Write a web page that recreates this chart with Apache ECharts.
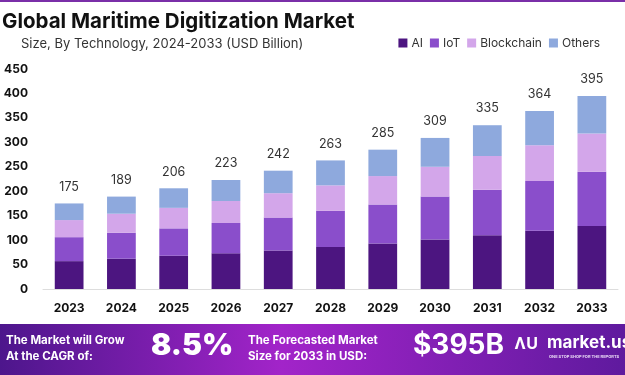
<!DOCTYPE html>
<html>
<head>
<meta charset="utf-8">
<script src="https://cdn.jsdelivr.net/npm/echarts@6/dist/echarts.min.js"></script>
<style>
  html, body { margin: 0; padding: 0; background: #fff; }
  #chart { width: 625px; height: 375px; }
</style>
</head>
<body>
<div id="chart"></div>
<script>
const years = ['2023', '2024', '2025', '2026', '2027', '2028', '2029', '2030', '2031', '2032', '2033']
const ai = [57, 62, 68, 73, 79, 86, 93, 101, 110, 119, 129]
const iot = [49, 53, 56, 62, 67, 74, 80, 88, 93, 102, 111]
const blockchain = [35, 39, 42, 45, 50, 52, 58, 61, 69, 73, 78]
const others = [34, 35, 40, 43, 46, 51, 54, 59, 63, 70, 77]
const totals = [175, 189, 206, 223, 242, 263, 285, 309, 335, 364, 395]

const font = 'Inter, "Open Sans", sans-serif'
const colors = ['#4c1580', '#8a4ecb', '#d3a6ea', '#8ea9dd']

const chart = echarts.init(document.getElementById('chart'))

function seg(name, data, color, withLabel) {
  const s = {
    name: name,
    type: 'bar',
    stack: 'total',
    data: data,
    barWidth: '55%',
    itemStyle: { color: color },
    emphasis: { disabled: true }
  }
  if (withLabel) {
    // total on top of the last segment
    s.label = {
      show: true,
      position: 'top',
      distance: 10,
      color: '#333',
      fontFamily: font,
      fontSize: 12.5,
      formatter: p => totals[p.dataIndex]
    }
  }
  return s
}

const option = {
  animation: false,
  backgroundColor: '#fff',
  title: [
    {
      text: 'Global Maritime Digitization Market',
      left: -3,
      top: 6,
      textStyle: { fontFamily: font, fontSize: 20.5, fontWeight: 'bold', color: '#111' }
    },
    {
      text: 'Size, By Technology, 2024-2033 (USD Billion)',
      left: 16,
      top: 33,
      textStyle: { fontFamily: font, fontSize: 13, fontWeight: 'normal', color: '#333' }
    }
  ],
  legend: {
    right: 20,
    top: 32,
    itemWidth: 9,
    itemHeight: 9,
    itemGap: 7,
    icon: 'rect',
    textStyle: { fontFamily: font, fontSize: 12, color: '#333', padding: [0, 0, 0, -1] },
    data: ['AI', 'IoT', 'Blockchain', 'Others']
  },
  grid: { left: 43, right: 7, top: 69, bottom: 86 },
  xAxis: {
    type: 'category',
    data: years,
    axisTick: { show: false },
    axisLine: { lineStyle: { color: '#ddd' } },
    axisLabel: { fontFamily: font, fontSize: 12, fontWeight: 'bold', color: '#111', margin: 13 }
  },
  yAxis: {
    type: 'value',
    min: 0,
    max: 450,
    interval: 50,
    splitLine: { show: false },
    axisLabel: { fontFamily: font, fontSize: 12, fontWeight: 'bold', color: '#111', margin: 15 }
  },
  series: [
    seg('AI', ai, colors[0], false),
    seg('IoT', iot, colors[1], false),
    seg('Blockchain', blockchain, colors[2], false),
    seg('Others', others, colors[3], true)
  ],
  graphic: [
    {
      type: 'rect',
      shape: { x: 0, y: 0, width: 625, height: 2 },
      style: { fill: '#7a2fa8' }
    },
    {
      type: 'rect',
      shape: { x: 0, y: 324, width: 625, height: 51 },
      style: {
        fill: new echarts.graphic.LinearGradient(0, 0, 1, 0, [
          { offset: 0, color: '#4d168c' },
          { offset: 0.45, color: '#a224c9' },
          { offset: 1, color: '#5f1a9e' }
        ])
      }
    },
    {
      type: 'text',
      left: 6, top: 333,
      style: { text: 'The Market will Grow\nAt the CAGR of:', fill: '#fff', font: 'bold 11.5px ' + font, lineHeight: 16 }
    },
    {
      type: 'text',
      left: 151, top: 331,
      style: { text: '8.5%', fill: '#fff', font: '900 30px ' + font }
    },
    {
      type: 'text',
      left: 248, top: 333,
      style: { text: 'The Forecasted Market\nSize for 2033 in USD:', fill: '#fff', font: 'bold 11.5px ' + font, lineHeight: 16 }
    },
    {
      type: 'text',
      left: 413, top: 332,
      style: { text: '$395B', fill: '#fff', font: 'bold 28px ' + font }
    },
    {
      type: 'text',
      left: 514, top: 336,
      style: { text: 'ɅU', fill: '#fff', font: 'bold 16px ' + font }
    },
    {
      type: 'text',
      left: 547, top: 334,
      style: { text: 'market.us', fill: '#fff', font: 'bold 17px ' + font }
    },
    {
      type: 'text',
      left: 549, top: 355,
      style: { text: 'ONE STOP SHOP FOR THE REPORTS', fill: '#e8d8f5', font: 'bold 4px ' + font }
    }
  ]
}

chart.setOption(option)
</script>
</body>
</html>
